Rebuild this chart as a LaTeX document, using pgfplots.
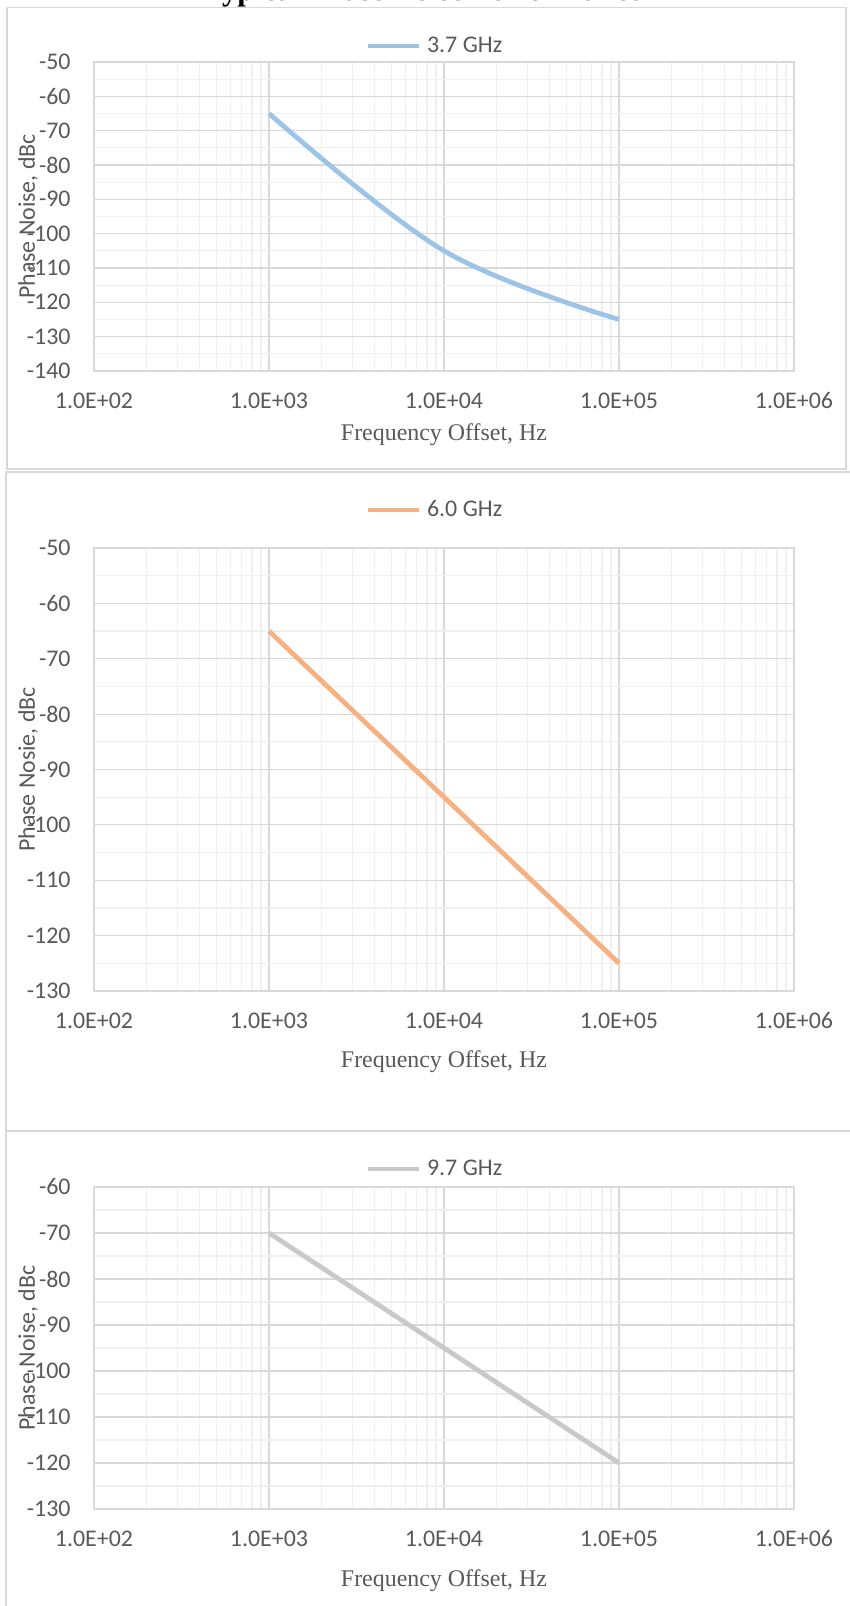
\documentclass[border=0pt]{standalone}
\usepackage{fontspec}
\setmainfont{Carlito}
\newfontfamily\tnr{Liberation Serif}
\usepackage{pgfplots}
\pgfplotsset{compat=1.18}
\definecolor{gridmaj}{HTML}{D9D9D9}
\definecolor{gridmin}{HTML}{EFEFEF}
\definecolor{txt}{HTML}{595959}
\definecolor{c1}{HTML}{9DC3E6}
\definecolor{c2}{HTML}{F4B183}
\definecolor{c3}{HTML}{C9C9C9}
\pgfplotsset{
  legend image code/.code={\draw[#1] (0bp,0bp) -- (25.5bp,0bp);},
}
\begin{document}
\begin{tikzpicture}
\useasboundingbox (0,0) rectangle (425bp,803bp);
\clip (0,0) rectangle (425bp,803bp);
\node[font=\tnr\bfseries\fontsize{15.4}{18}\selectfont, anchor=base] at (211.5bp,802.5bp) {Typical Phase Noise Performance};
\draw[gridmaj, line width=0.75bp] (3.5bp,799.25bp) rectangle (423bp,568.5bp);
\draw[gridmaj, line width=0.75bp] (3bp,567bp) rectangle (440bp,237.5bp);
\draw[gridmaj, line width=0.75bp] (3bp,237.5bp) rectangle (440bp,-20bp);
\pgfplotsset{
  every axis/.append style={
    xmode=log, log basis x=10,
    scale only axis, width=350bp,
    xmin=1e2, xmax=1e6,
    xtick={1e2,1e3,1e4,1e5,1e6},
    xticklabels={1.0E+02,1.0E+03,1.0E+04,1.0E+05,1.0E+06},
    minor xtick={200,300,400,500,600,700,800,900,2000,3000,4000,5000,6000,7000,8000,9000,20000,30000,40000,50000,60000,70000,80000,90000,200000,300000,400000,500000,600000,700000,800000,900000},
    grid=both,
    major grid style={gridmaj, line width=0.6bp},
    minor grid style={gridmin, line width=0.6bp},
    axis line style={gridmaj, line width=0.6bp},
    major tick length=0pt, minor tick length=0pt,
    minor y tick num=1,
    ticklabel style={font=\fontsize{12}{14}\selectfont, text=txt},
    xticklabel style={anchor=center, inner sep=0pt, yshift=-15bp},
    yticklabel style={anchor=east, inner sep=0pt, xshift=-11.5bp},
    xlabel={Frequency Offset, Hz},
    xlabel style={font=\tnr\fontsize{12}{14}\selectfont, text=txt, anchor=center, inner sep=0pt, at={(axis description cs:0.5,0)}},
    ylabel style={font=\fontsize{12}{14}\selectfont, text=txt, anchor=center, inner sep=0pt, at={(axis description cs:-0.0943,0.5)}},
    legend style={draw=none, fill=none, inner sep=0pt, anchor=west, font=\fontsize{12}{14}\selectfont, text=txt, nodes={inner sep=0pt}, column sep=3bp},
  },
  every axis plot/.append style={line width=2.4bp},
}

\begin{axis}[at={(47bp,772bp)}, anchor=north west, height=154.5bp,
  ymin=-140, ymax=-50, ytick={-140,-130,-120,-110,-100,-90,-80,-70,-60,-50},
  yticklabels={-140,-130,-120,-110,-100,-90,-80,-70,-60,-50},
  ylabel={Phase Noise, dBc},
  xlabel style={yshift=-32bp},
  legend style={at={(axis description cs:0.387,1.0518)}}]
\addplot[c1, smooth, tension=0.6] coordinates {(1000,-65) (10000,-105) (100000,-125)};
\addlegendentry{3.7 GHz}
\end{axis}

\begin{axis}[at={(47bp,529bp)}, anchor=north west, height=221.5bp,
  ymin=-130, ymax=-50, ytick={-130,-120,-110,-100,-90,-80,-70,-60,-50},
  yticklabels={-130,-120,-110,-100,-90,-80,-70,-60,-50},
  ylabel={Phase Nosie, dBc},
  xlabel style={yshift=-35.5bp},
  legend style={at={(axis description cs:0.387,1.0858)}}]
\addplot[c2] coordinates {(1000,-65) (10000,-95) (100000,-125)};
\addlegendentry{6.0 GHz}
\end{axis}

\begin{axis}[at={(47bp,209.5bp)}, anchor=north west, height=161bp,
  ymin=-130, ymax=-60, ytick={-130,-120,-110,-100,-90,-80,-70,-60},
  yticklabels={-130,-120,-110,-100,-90,-80,-70,-60},
  ylabel={Phase Noise, dBc},
  xlabel style={yshift=-36bp},
  legend style={at={(axis description cs:0.387,1.0559)}}]
\addplot[c3] coordinates {(1000,-70) (10000,-95) (100000,-120)};
\addlegendentry{9.7 GHz}
\end{axis}
\end{tikzpicture}
\end{document}
